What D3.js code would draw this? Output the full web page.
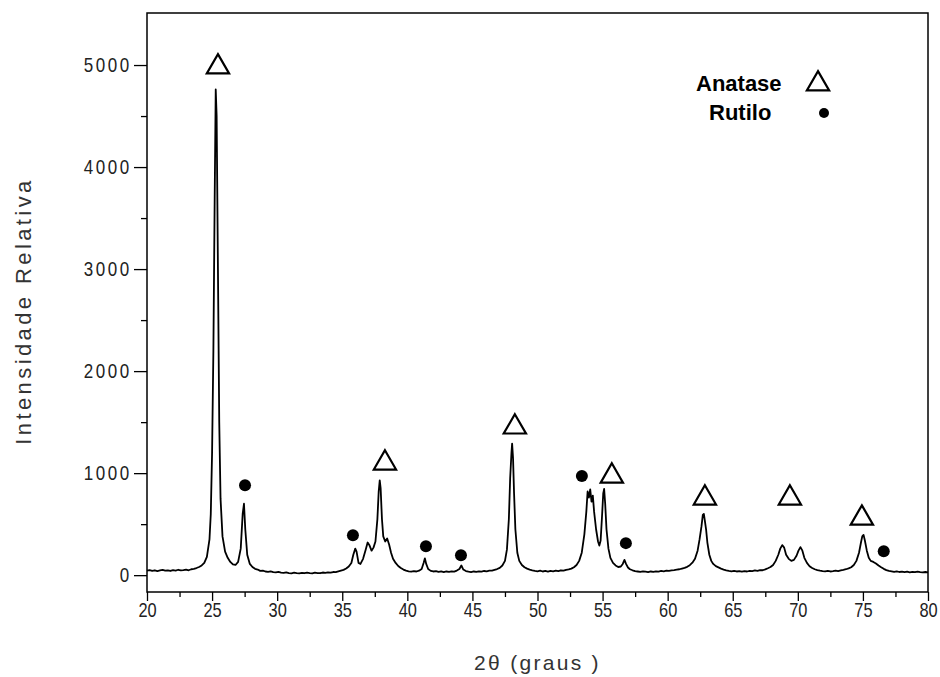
<!DOCTYPE html>
<html>
<head>
<meta charset="utf-8">
<script src="https://cdn.jsdelivr.net/npm/d3@7"></script>
<style>
  body { margin: 0; background: #fff; }
  svg { display: block; font-family: "Liberation Sans", Arial, sans-serif; }
</style>
</head>
<body>
<svg id="chart" width="940" height="677"></svg>
<script>
// XRD pattern, [2theta, intensity]
const spectrum = [
  [20.0,45],[20.2,50],[20.4,42],[20.6,48],[20.8,40],[21.0,46],[21.2,52],[21.4,44],[21.6,47],[21.8,41],
  [22.0,49],[22.2,45],[22.4,53],[22.6,47],[22.8,50],[23.0,55],[23.2,48],[23.4,58],[23.6,62],[23.8,70],
  [24.0,80],[24.2,95],[24.4,120],[24.6,180],[24.8,350],[24.9,600],[25.0,1200],[25.1,2200],[25.2,3700],[25.28,4760],
  [25.35,4500],[25.45,3000],[25.55,1500],[25.65,750],[25.8,380],[26.0,230],[26.2,170],[26.4,130],[26.6,105],[26.8,100],
  [27.0,130],[27.2,260],[27.35,600],[27.45,700],[27.55,450],[27.7,200],[27.9,110],[28.1,80],[28.3,62],[28.5,55],
  [28.7,42],[28.9,45],[29.1,36],[29.3,33],[29.5,38],[29.7,30],[29.9,27],[30.1,32],[30.3,25],[30.5,22],
  [30.7,27],[30.9,21],[31.1,18],[31.3,24],[31.5,20],[31.7,17],[31.9,22],[32.1,19],[32.3,24],[32.5,20],
  [32.7,18],[32.9,25],[33.1,21],[33.3,19],[33.5,26],[33.7,22],[33.9,28],[34.1,25],[34.3,31],[34.5,30],
  [34.7,38],[34.9,45],[35.1,52],[35.3,65],[35.5,85],[35.7,120],[35.85,200],[36.0,260],[36.1,230],[36.25,120],
  [36.4,110],[36.6,160],[36.8,250],[36.95,320],[37.1,290],[37.25,240],[37.4,270],[37.55,330],[37.7,550],[37.8,820],
  [37.88,930],[37.95,850],[38.05,550],[38.15,380],[38.3,330],[38.45,360],[38.6,300],[38.75,220],[38.9,160],[39.1,120],
  [39.3,90],[39.5,70],[39.7,55],[39.9,45],[40.1,38],[40.3,35],[40.5,40],[40.7,36],[40.9,44],[41.1,60],
  [41.25,120],[41.35,165],[41.45,110],[41.6,60],[41.8,42],[42.0,36],[42.2,40],[42.4,32],[42.6,37],[42.8,30],
  [43.0,36],[43.2,32],[43.4,38],[43.6,35],[43.8,45],[44.0,60],[44.15,95],[44.3,55],[44.5,40],[44.7,34],
  [44.9,30],[45.1,36],[45.3,32],[45.5,38],[45.7,35],[45.9,41],[46.1,38],[46.3,45],[46.5,44],[46.7,52],
  [46.9,60],[47.1,72],[47.3,95],[47.5,140],[47.65,250],[47.8,550],[47.9,950],[48.0,1200],[48.05,1290],[48.12,1150],
  [48.2,800],[48.3,450],[48.45,220],[48.6,140],[48.8,100],[49.0,78],[49.2,64],[49.4,55],[49.6,48],[49.8,42],
  [50.0,38],[50.2,44],[50.4,36],[50.6,41],[50.8,35],[51.0,42],[51.2,38],[51.4,45],[51.6,40],[51.8,48],
  [52.0,44],[52.2,52],[52.4,56],[52.6,64],[52.8,78],[53.0,100],[53.2,140],[53.4,220],[53.6,400],[53.75,620],
  [53.85,820],[53.95,760],[54.05,840],[54.15,720],[54.25,780],[54.35,620],[54.5,450],[54.65,330],[54.75,290],[54.85,340],
  [54.95,560],[55.05,800],[55.12,845],[55.2,700],[55.3,450],[55.45,260],[55.6,170],[55.8,120],[56.0,95],[56.2,80],
  [56.4,85],[56.55,110],[56.68,150],[56.8,110],[56.95,75],[57.1,58],[57.3,48],[57.5,40],[57.7,36],[57.9,32],
  [58.1,38],[58.3,34],[58.5,30],[58.7,36],[58.9,32],[59.1,38],[59.3,35],[59.5,41],[59.7,37],[59.9,44],
  [60.1,42],[60.3,47],[60.5,50],[60.7,54],[60.9,58],[61.1,65],[61.3,72],[61.5,82],[61.7,98],[61.9,122],
  [62.1,160],[62.3,240],[62.45,350],[62.6,480],[62.7,590],[62.78,600],[62.85,540],[62.95,450],[63.05,320],[63.2,200],
  [63.35,140],[63.5,110],[63.7,88],[63.9,76],[64.1,64],[64.3,55],[64.5,48],[64.7,42],[64.9,38],[65.1,42],
  [65.3,36],[65.5,40],[65.7,34],[65.9,39],[66.1,36],[66.3,43],[66.5,40],[66.7,46],[66.9,42],[67.1,50],
  [67.3,48],[67.5,57],[67.7,68],[67.9,80],[68.1,100],[68.3,140],[68.5,200],[68.65,260],[68.8,295],[68.95,270],
  [69.1,200],[69.3,160],[69.5,140],[69.7,150],[69.9,190],[70.05,240],[70.2,275],[70.35,240],[70.5,170],[70.7,120],
  [70.9,88],[71.1,70],[71.3,58],[71.5,50],[71.7,44],[71.9,40],[72.1,37],[72.3,42],[72.5,36],[72.7,40],
  [72.9,45],[73.1,40],[73.3,47],[73.5,52],[73.7,58],[73.9,66],[74.1,78],[74.3,100],[74.5,140],[74.7,220],
  [74.85,320],[74.95,380],[75.05,395],[75.15,340],[75.3,240],[75.45,170],[75.6,140],[75.8,130],[76.0,115],[76.2,95],
  [76.4,78],[76.6,62],[76.8,50],[77.0,42],[77.2,38],[77.4,33],[77.6,38],[77.8,31],[78.0,35],[78.2,29],
  [78.4,34],[78.6,28],[78.8,33],[79.0,29],[79.2,35],[79.4,30],[79.6,27],[79.8,31],[80.0,28]
];

// phase markers (position of the symbol)
const anatasePeaks = [[25.45,5000],[38.28,1118],[48.26,1471],[55.71,990],[62.86,775],[69.39,775],[74.92,578]];
const rutiloPeaks = [[27.53,882],[35.82,392],[41.43,284],[44.12,196],[53.41,971],[56.79,314],[76.6,235]];

const xTicks = [20,25,30,35,40,45,50,55,60,65,70,75,80];
const xMinor = [22.5,27.5,32.5,37.5,42.5,47.5,52.5,57.5,62.5,67.5,72.5,77.5];
const yTicks = [0,1000,2000,3000,4000,5000];
const yMinor = [500,1500,2500,3500,4500];

const svg = d3.select('#chart');
const mLeft = 147, mRight = 928, mTop = 13, mBottom = 592;

const x = d3.scaleLinear().domain([20, 80]).range([mLeft, mRight]);
const y = d3.scaleLinear().domain([-165, 5510]).range([mBottom, mTop]);

// frame
svg.append('rect')
  .attr('x', mLeft).attr('y', mTop)
  .attr('width', mRight - mLeft).attr('height', mBottom - mTop)
  .attr('fill', 'none').attr('stroke', '#000').attr('stroke-width', 1.5);

// x axis
const xAxis = svg.append('g').attr('transform', `translate(0,${mBottom})`)
  .call(d3.axisBottom(x).tickValues(xTicks).tickSize(9).tickPadding(2).tickFormat(d3.format('d')));
svg.append('g').attr('transform', `translate(0,${mBottom})`)
  .call(d3.axisBottom(x).tickValues(xMinor).tickSize(5).tickFormat(''));

// y axis
const yAxis = svg.append('g').attr('transform', `translate(${mLeft},0)`)
  .call(d3.axisLeft(y).tickValues(yTicks).tickSize(13).tickPadding(5).tickFormat(d3.format('d')));
svg.append('g').attr('transform', `translate(${mLeft},0)`)
  .call(d3.axisLeft(y).tickValues(yMinor).tickSize(6).tickFormat(''));

svg.selectAll('.domain').remove();
svg.selectAll('.tick line').attr('stroke', '#000').attr('stroke-width', 1.3);
svg.selectAll('.tick text').attr('fill', '#222').style('font-size', '20px');
// the digits are narrow and tall in the original
xAxis.selectAll('.tick text').attr('transform', 'scale(0.82,1)');
yAxis.selectAll('.tick text').attr('transform', 'scale(0.85,1)').style('letter-spacing', '3px');

// axis titles
svg.append('text')
  .attr('x', (mLeft + mRight) / 2).attr('y', 670)
  .attr('text-anchor', 'middle')
  .attr('fill', '#333').style('font-size', '21px').style('letter-spacing', '2.3px')
  .text('2θ (graus )');

svg.append('text')
  .attr('transform', 'translate(31,311) rotate(-90)')
  .attr('text-anchor', 'middle')
  .attr('fill', '#333').style('font-size', '22px').style('letter-spacing', '3.4px')
  .text('Intensidade Relativa');

// pattern
const line = d3.line().x(d => x(d[0])).y(d => y(d[1]));
svg.append('path')
  .datum(spectrum)
  .attr('d', line)
  .attr('fill', 'none')
  .attr('stroke', '#000')
  .attr('stroke-width', 1.8)
  .attr('stroke-linejoin', 'round');

// markers
const tri = d3.symbol().type(d3.symbolTriangle).size(215);
svg.selectAll('.ana').data(anatasePeaks).enter()
  .append('path')
  .attr('class', 'ana')
  .attr('d', tri)
  .attr('transform', d => `translate(${x(d[0])},${y(d[1]) + 2})`)
  .attr('fill', '#fff').attr('stroke', '#000').attr('stroke-width', 2.2);

svg.selectAll('.rut').data(rutiloPeaks).enter()
  .append('circle')
  .attr('class', 'rut')
  .attr('cx', d => x(d[0])).attr('cy', d => y(d[1]))
  .attr('r', 6)
  .attr('fill', '#000');

// legend
const legend = svg.append('g').style('font-weight', 'bold').style('font-size', '22px');
legend.append('text').attr('x', 696).attr('y', 91).text('Anatase');
legend.append('path').attr('d', tri).attr('transform', 'translate(818,84)')
  .attr('fill', '#fff').attr('stroke', '#000').attr('stroke-width', 2.2);
legend.append('text').attr('x', 709).attr('y', 120).text('Rutilo');
legend.append('circle').attr('cx', 824).attr('cy', 113).attr('r', 5).attr('fill', '#000');
</script>
</body>
</html>
